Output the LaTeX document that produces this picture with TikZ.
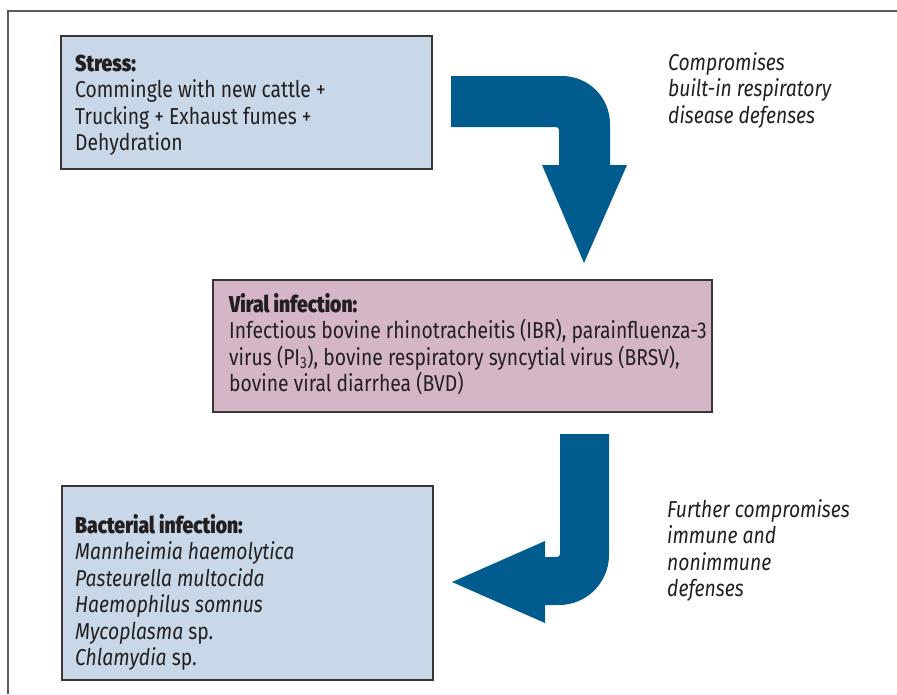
\documentclass[tikz,border=0pt]{standalone}
\usepackage{fontspec}
\setmainfont{Fira Sans}[FakeStretch=0.84, BoldFont={Fira Sans Black}]
\definecolor{arrowblue}{HTML}{005C8F}
\definecolor{boxblue}{HTML}{C9D8E8}
\definecolor{boxpink}{HTML}{D5B6C7}
\definecolor{ink}{HTML}{231F20}
\definecolor{framegray}{HTML}{5A5A5A}
\newcommand\firststrut{\rule{0pt}{20pt}}
\tikzset{
  box/.style={draw=ink!90, line width=1.5pt, anchor=north west, inner sep=0pt, rectangle},
  txt/.style={anchor=north west, inner sep=0pt, align=left, text=ink, font=\fontsize{23}{26.5}\selectfont},
  bigarrow/.style={fill=arrowblue}
}
\begin{document}
\begin{tikzpicture}[x=1pt,y=-1pt]
\useasboundingbox (0,0) rectangle (897,694);
% frame
\draw[framegray, line width=1.3pt] (8,694) -- (8,11) -- (897,11);
% boxes
\node[box, fill=boxblue, minimum width=371pt, minimum height=133pt] (stress) at (60,35) {};
\node[box, fill=boxpink, minimum width=499pt, minimum height=132pt] (viral) at (212,279) {};
\node[box, fill=boxblue, minimum width=371pt, minimum height=194pt] (bact) at (61,485) {};
% box texts
\node[txt] (stresstext) at (75,51) {\firststrut\textbf{Stress:}\\Commingle with new cattle +\\Trucking + Exhaust fumes +\\Dehydration};
\node[txt] (viraltext) at (229,292) {\firststrut\textbf{Viral infection:}\\Infectious bovine rhinotracheitis (IBR), parainfluenza-3\\virus (PI\textsubscript{3}), bovine respiratory syncytial virus (BRSV),\\bovine viral diarrhea (BVD)};
\node[txt] (bacttext) at (75,513) {\firststrut\textbf{Bacterial infection:}\\\textit{Mannheimia haemolytica}\\\textit{Pasteurella multocida}\\\textit{Haemophilus somnus}\\\textit{Mycoplasma} sp.\\\textit{Chlamydia} sp.};
% side texts
\node[txt, font=\fontsize{23}{26.5}\selectfont\itshape] (note1) at (668,50) {\firststrut Compromises\\built-in respiratory\\disease defenses};
\node[txt, font=\fontsize{23}{26.5}\selectfont\itshape] (note2) at (667,497) {\firststrut Further compromises\\immune and\\nonimmune\\defenses};
% arrow 1
\fill[bigarrow] (451,76) -- (562,76) .. controls (588.5,76) and (610,97.5) .. (610,124)
  -- (610,165) -- (627,165) -- (584,263) -- (542,165) -- (559,165) -- (559,130)
  .. controls (559,128.3) and (557.7,127) .. (556,127) -- (451,127) -- cycle;
% arrow 2
\fill[bigarrow] (560,434) -- (609,434) -- (609,555) .. controls (609,582.6) and (586.6,605) .. (559,605)
  -- (545,605) -- (545,623) -- (452,582) -- (545,541) -- (545,557) -- (557,557)
  .. controls (558.7,557) and (560,555.7) .. (560,554) -- cycle;
\end{tikzpicture}
\end{document}
